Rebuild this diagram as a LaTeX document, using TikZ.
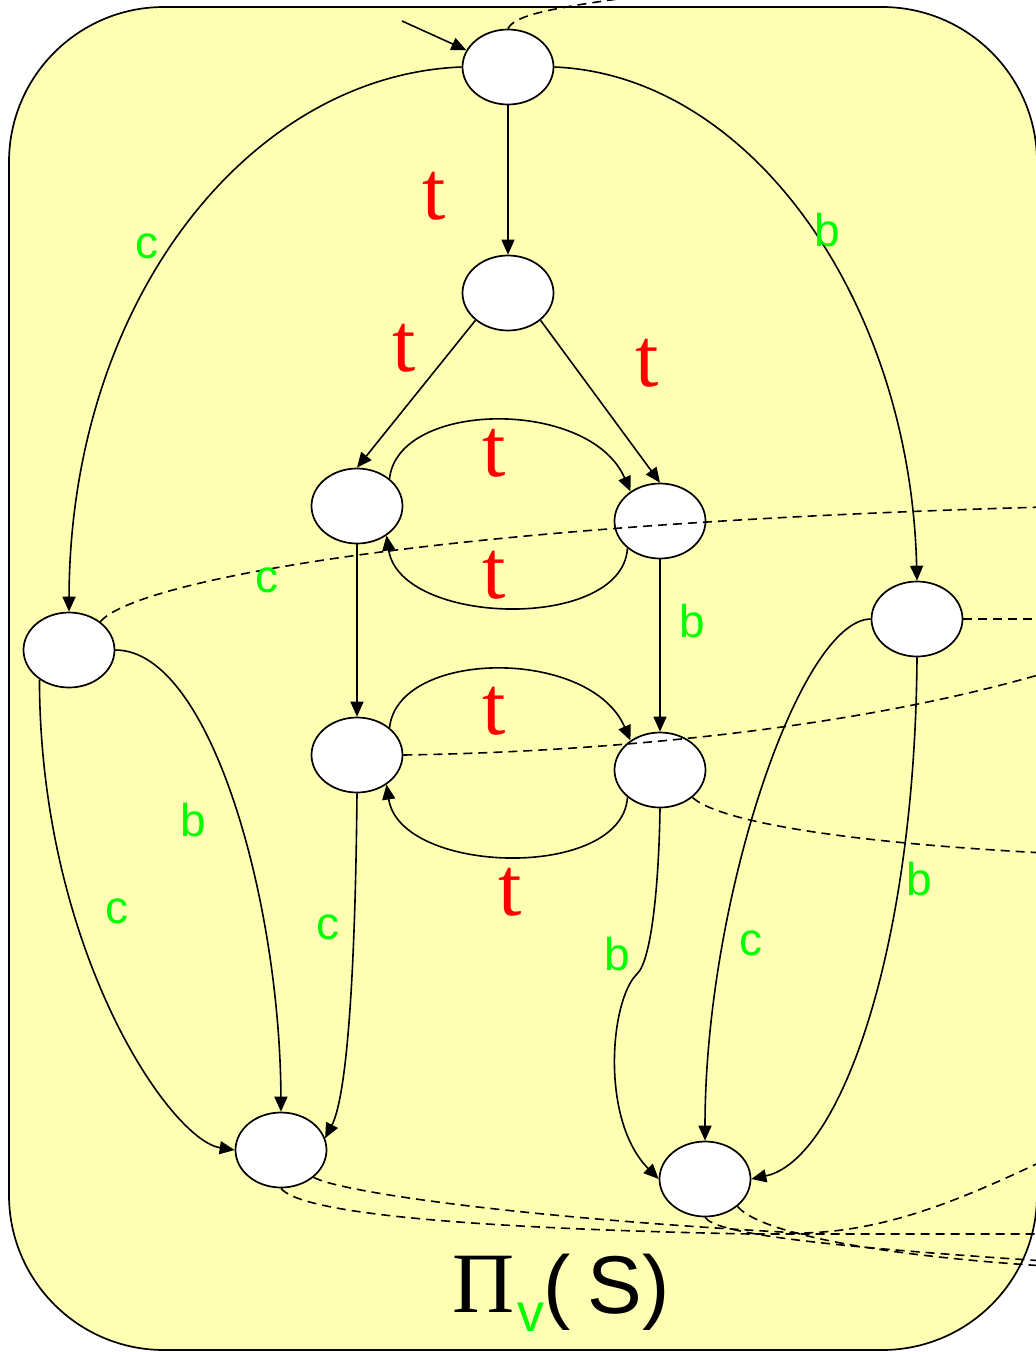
\documentclass[tikz,border=0pt]{standalone}
\usepackage{fontspec}
\setmainfont{Liberation Serif}
\newfontfamily\serf{Liberation Serif}
\newfontfamily\sansf{Liberation Sans}
\usetikzlibrary{shapes.geometric,arrows.meta}
\definecolor{bgyellow}{HTML}{FFFFB3}
\definecolor{labgreen}{HTML}{00FF00}
\definecolor{labred}{HTML}{FF0000}
\begin{document}
\begin{tikzpicture}[x=1pt,y=-1pt,
  state/.style={ellipse,draw,fill=white,line width=1.7pt,minimum width=91pt,minimum height=75pt,inner sep=0pt},
  edge/.style={line width=1.6pt,-{Triangle[length=15pt,width=13pt]}},
  dashline/.style={line width=1.6pt,dash pattern=on 9pt off 6pt},
  tlab/.style={text=labred,font=\serf\fontsize{84}{90}\selectfont,inner sep=0pt},
  glab/.style={text=labgreen,font=\sansf\fontsize{46}{50}\selectfont,inner sep=0pt}]
\useasboundingbox (0,0) rectangle (1036,1352);
\draw[line width=1.7pt,fill=bgyellow,rounded corners=155pt] (9,7) rectangle (1037,1350);

% states
\node[state] (n0) at (508,67) {};
\node[state] (n1) at (508,293) {};
\node[state] (n2) at (357,506) {};
\node[state] (n3) at (660,521) {};
\node[state] (n4) at (357,755) {};
\node[state] (n5) at (660,770) {};
\node[state] (n6) at (69,650) {};
\node[state] (n7) at (917,619) {};
\node[state] (n8) at (281,1150) {};
\node[state] (n9) at (705,1179) {};
\coordinate (init) at (402,21);
\coordinate (kink) at (637,974);

% solid edges
\draw[edge] (init) -- (n0.158);
\draw[edge] (n0.south) -- (n1.north);
\draw[edge] (n0.west) .. controls (250,75) and (70,300) .. (n6.north);
\draw[edge] (n0.east) .. controls (750,75) and (910,300) .. (n7.north);
\draw[edge] (n1.220) -- (n2.north);
\draw[edge] (n1.320) -- (n3.north);
\draw[edge] (n2.40) .. controls (398,400) and (590,398) .. (n3.135);
\draw[edge] (n3.220) .. controls (622,632) and (400,626) .. (n2.315);
\draw[edge] (n2.south) -- (n4.north);
\draw[edge] (n3.south) -- (n5.north);
\draw[edge] (n4.40) .. controls (398,649) and (590,647) .. (n5.135);
\draw[edge] (n5.220) .. controls (622,881) and (400,875) .. (n4.315);
\draw[edge] (n6.225) .. controls (40,950) and (170,1140) .. (n8.west);
\draw[edge] (n6.east) .. controls (210,650) and (280,900) .. (n8.north);
\draw[edge] (n4.south) .. controls (355,1000) and (345,1100) .. (n8.15);
\draw[edge] (n5.south) .. controls (659,880) and (652,960) .. (kink) .. controls (610,1000) and (600,1120) .. (n9.west);
\draw[edge] (n7.west) .. controls (800,620) and (705,900) .. (n9.north);
\draw[edge] (n7.south) .. controls (915,950) and (840,1160) .. (n9.east);

% dashed lines
\draw[dashline] (n0.north) .. controls (515,15) and (550,8) .. (640,-4);
\draw[dashline] (n6.42) .. controls (130,585) and (400,525) .. (1045,507);
\draw[dashline] (n7.east) -- (1045,619);
\draw[dashline] (n4.east) .. controls (600,752) and (850,730) .. (1045,673);
\draw[dashline] (n5.320) .. controls (710,815) and (800,840) .. (1045,853);
\draw[dashline] (n8.south) .. controls (300,1212) and (450,1228) .. (750,1234) -- (1045,1234);
\draw[dashline] (n8.320) .. controls (340,1192) and (520,1218) .. (800,1233) .. controls (890,1232) and (970,1195) .. (1045,1160);
\draw[dashline] (n9.south) .. controls (715,1232) and (800,1245) .. (1045,1261);
\draw[dashline] (n9.320) .. controls (752,1225) and (830,1252) .. (1045,1266);

% red labels
\node[tlab] (t1) at (434,196) {t};
\node[tlab] (t2) at (404,348) {t};
\node[tlab] (t3) at (647,363) {t};
\node[tlab] (t4) at (494,453) {t};
\node[tlab] (t5) at (494,575) {t};
\node[tlab] (t6) at (494,711) {t};
\node[tlab] (t7) at (510,892) {t};

% green labels
\node[glab] (g1) at (147,246) {c};
\node[glab] (g2) at (827,230) {b};
\node[glab] (g3) at (267,580) {c};
\node[glab] (g4) at (692,621) {b};
\node[glab] (g5) at (193,820) {b};
\node[glab] (g6) at (117,911) {c};
\node[glab] (g7) at (328,927) {c};
\node[glab] (g8) at (617,954) {b};
\node[glab] (g9) at (751,943) {c};
\node[glab] (g10) at (919,879) {b};

% title
\node[anchor=base west,inner sep=0pt,font=\serf\fontsize{86}{90}\selectfont] (pi) at (452,1312) {Π};
\node[anchor=base west,inner sep=0pt,text=labgreen,font=\sansf\fontsize{54}{60}\selectfont] (sub) at (517,1331) {v};
\node[anchor=base west,inner sep=0pt,font=\sansf\fontsize{82}{90}\selectfont] (arg) at (543,1313) {(\hspace{17pt}S)};
\end{tikzpicture}
\end{document}
